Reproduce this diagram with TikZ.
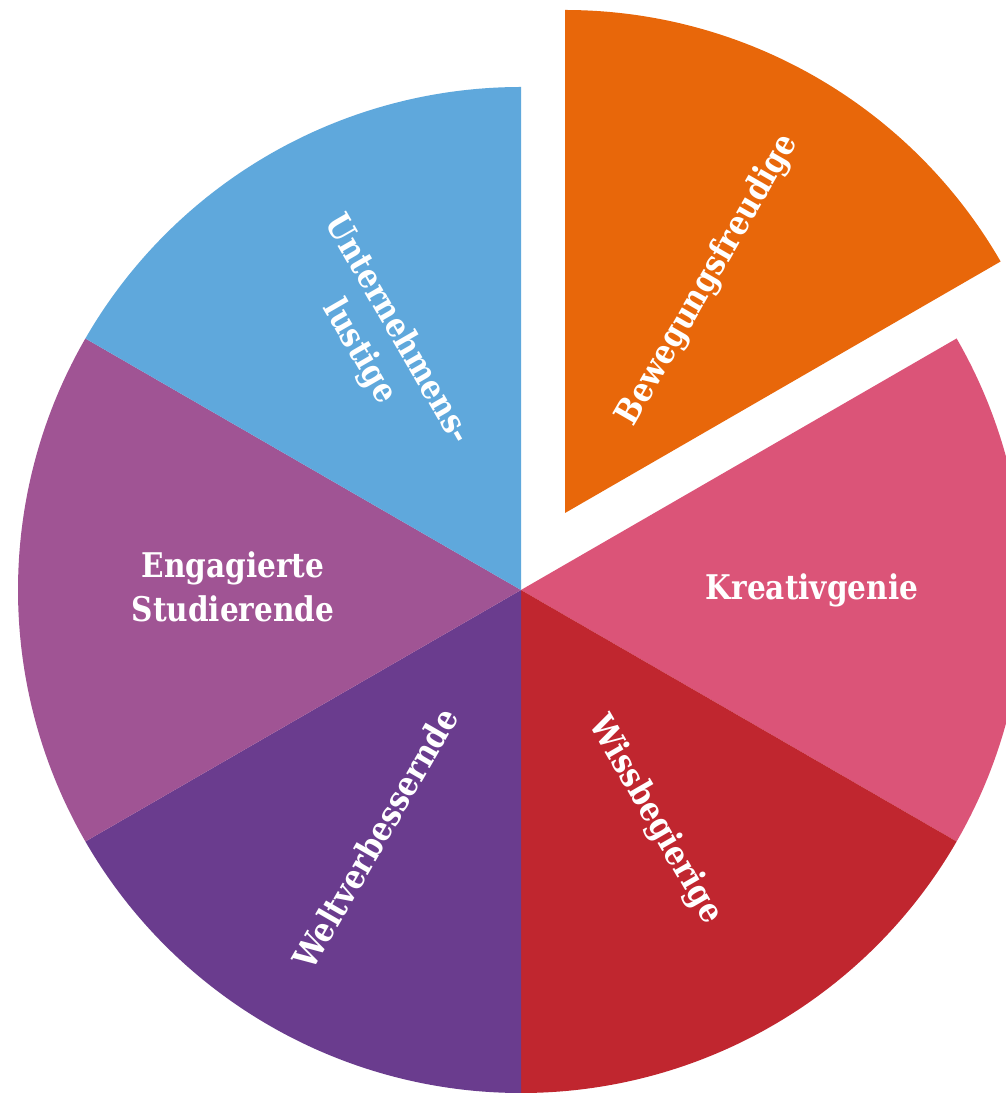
\documentclass[tikz,border=0pt]{standalone}
\usepackage{fontspec}
\setmainfont{DejaVu Serif}[FakeStretch=0.87]
\definecolor{cOrange}{RGB}{232,103,10}
\definecolor{cPink}{RGB}{219,84,120}
\definecolor{cRed}{RGB}{192,38,47}
\definecolor{cDeep}{RGB}{106,60,142}
\definecolor{cPurple}{RGB}{160,84,148}
\definecolor{cBlue}{RGB}{95,168,220}
\begin{document}
\begin{tikzpicture}[x=1pt,y=1pt,
  lbl/.style={text=white,font=\fontsize{34}{44}\selectfont\bfseries,align=center,inner sep=0pt}]
\useasboundingbox (0,0) rectangle (1006,1093);
\clip (0,0) rectangle (1006,1093);
\fill[white] (0,0) rectangle (1006,1093);
\coordinate (C) at (521,503);
\coordinate (E) at (565,580);
\def\R{503}
% slices
\fill[cPink]   (C) -- ++(-30:\R) arc[start angle=-30,end angle=30,radius=\R] -- cycle;
\fill[cRed]    (C) -- ++(-90:\R) arc[start angle=-90,end angle=-30,radius=\R] -- cycle;
\fill[cDeep]   (C) -- ++(-150:\R) arc[start angle=-150,end angle=-90,radius=\R] -- cycle;
\fill[cPurple] (C) -- ++(150:\R) arc[start angle=150,end angle=210,radius=\R] -- cycle;
\fill[cBlue]   (C) -- ++(90:\R) arc[start angle=90,end angle=150,radius=\R] -- cycle;
\fill[cOrange] (E) -- ++(30:\R) arc[start angle=30,end angle=90,radius=\R] -- cycle;
% labels
\node[lbl] (kreativ) at (812,503) {Kreativgenie};
\node[lbl] (engag) at (233,506) {Engagierte\\Studierende};
\node[lbl,rotate=-60] (unter) at (378,752) {Unternehmens-\\lustige};
\node[lbl,rotate=60] (beweg) at (708,813) {Bewegungsfreudige};
\node[lbl,rotate=-60] (wiss) at (655,273) {Wissbegierige};
\node[lbl,rotate=60] (welt) at (375,255) {Weltverbessernde};
\end{tikzpicture}
\end{document}
